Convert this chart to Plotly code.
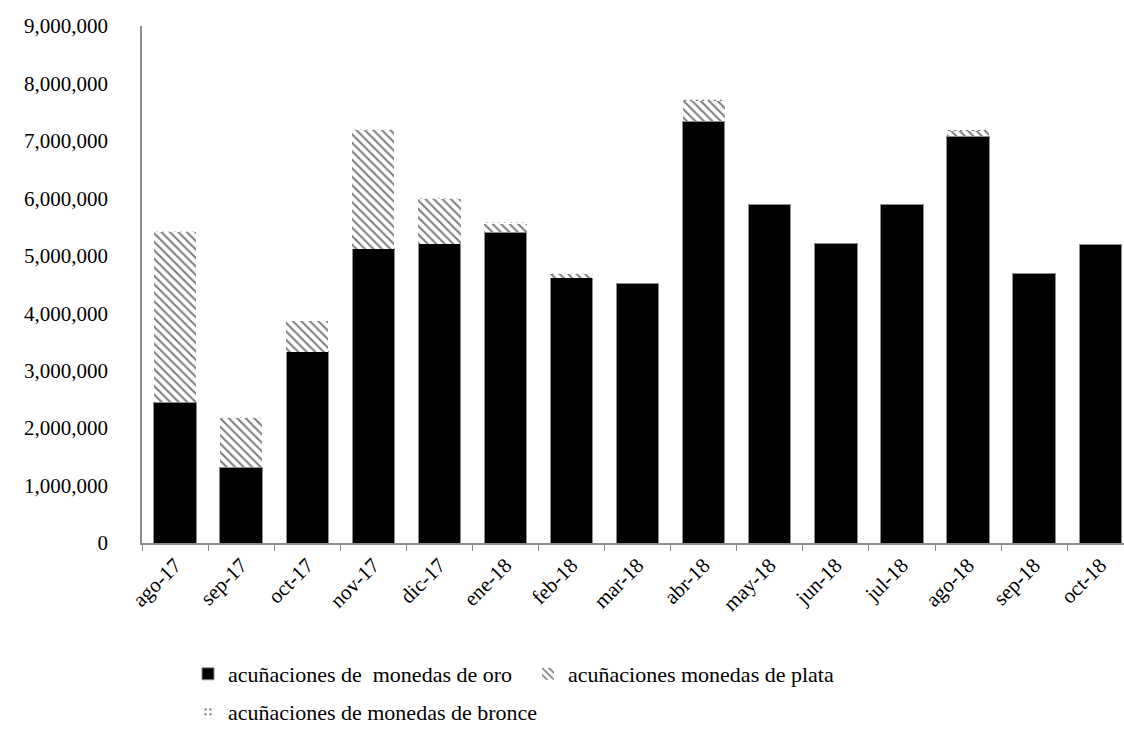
import plotly.graph_objects as go

meses = ["ago-17", "sep-17", "oct-17", "nov-17", "dic-17", "ene-18", "feb-18",
         "mar-18", "abr-18", "may-18", "jun-18", "jul-18", "ago-18", "sep-18", "oct-18"]

oro = [2450000, 1320000, 3330000, 5120000, 5210000, 5410000, 4620000,
       4520000, 7340000, 5900000, 5210000, 5900000, 7080000, 4700000, 5190000]

plata = [2980000, 860000, 540000, 2080000, 780000, 160000, 80000,
         0, 370000, 0, 0, 0, 100000, 0, 0]

bronce = [5000, 4000, 6000, 5000, 5000, 4000, 3000,
          0, 6000, 0, 0, 0, 3000, 0, 0]

fuente = dict(family="Liberation Serif, Times New Roman, serif", size=21, color="#000000")
fuente_ley = dict(family="Liberation Serif, Times New Roman, serif", size=22, color="#000000")

fig = go.Figure()
fig.add_trace(go.Bar(
    x=meses, y=oro, name="acuñaciones de\u00a0 monedas de oro",
    marker=dict(color="#000000", line=dict(color="#8c8c8c", width=1)),
    legend="legend",
))
fig.add_trace(go.Bar(
    x=meses, y=plata, name="acuñaciones monedas de plata",
    marker=dict(color="#ffffff", line=dict(width=0),
                pattern=dict(shape="\\", fgcolor="#000000", bgcolor="#ffffff",
                             size=6, solidity=0.35)),
    legend="legend",
))
fig.add_trace(go.Bar(
    x=meses, y=bronce, name="acuñaciones de monedas de bronce",
    marker=dict(color="#ffffff", line=dict(width=0),
                pattern=dict(shape=".", fgcolor="#000000", bgcolor="#ffffff",
                             size=6, solidity=0.2)),
    legend="legend2",
))

ley_x = 188 / 1124

fig.update_layout(
    barmode="stack",
    bargap=0.36,
    width=1124, height=730,
    margin=dict(l=142, r=0, t=26, b=187),
    paper_bgcolor="#ffffff",
    plot_bgcolor="#ffffff",
    font=fuente,
    showlegend=True,
    legend=dict(
        orientation="h",
        xref="container", yref="container",
        x=ley_x, xanchor="left",
        y=1 - 653 / 730, yanchor="top",
        entrywidth=295, entrywidthmode="pixels",
        traceorder="normal",
        font=fuente_ley,
        itemclick=False,
    ),
    legend2=dict(
        orientation="h",
        xref="container", yref="container",
        x=ley_x, xanchor="left",
        y=1 - 691 / 730, yanchor="top",
        font=fuente_ley,
        itemclick=False,
    ),
    xaxis=dict(
        range=[-0.5, 14.36],
        showline=True, linecolor="#8c8c8c", linewidth=1.5,
        ticks="outside", tickson="boundaries", ticklen=6, tickcolor="#8c8c8c",
        tickangle=-45, tickfont=fuente,
        showgrid=False, zeroline=False,
    ),
    yaxis=dict(
        range=[0, 9000000],
        tickvals=[0, 1000000, 2000000, 3000000, 4000000, 5000000,
                  6000000, 7000000, 8000000, 9000000],
        tickformat=",d",
        showline=True, linecolor="#8c8c8c", linewidth=1.5,
        ticks="", ticklabelstandoff=28,
        showgrid=False, zeroline=False,
        tickfont=fuente,
    ),
)

fig.write_html("out.html")
